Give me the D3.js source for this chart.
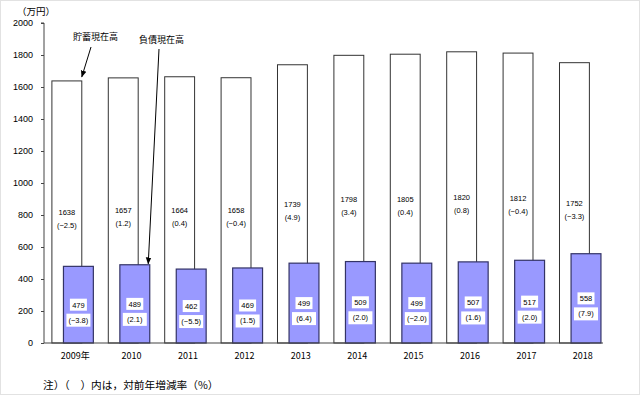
<!DOCTYPE html>
<html>
<head>
<meta charset="utf-8">
<script src="https://cdn.jsdelivr.net/npm/d3@7"></script>
<style>
  body { margin: 0; background: #fff; }
  svg { display: block; }
  text { font-family: "Liberation Sans", Arial, sans-serif; fill: #000; }
  .jp { font-family: "Noto Sans CJK JP", sans-serif; }
</style>
</head>
<body>
<svg></svg>
<script>
const years = ["2009年", "2010", "2011", "2012", "2013", "2014", "2015", "2016", "2017", "2018"];
const savings = [1638, 1657, 1664, 1658, 1739, 1798, 1805, 1820, 1812, 1752];
const savingsPct = ["(−2.5)", "(1.2)", "(0.4)", "(−0.4)", "(4.9)", "(3.4)", "(0.4)", "(0.8)", "(−0.4)", "(−3.3)"];
const debt = [479, 489, 462, 469, 499, 509, 499, 507, 517, 558];
const debtPct = ["(−3.8)", "(2.1)", "(−5.5)", "(1.5)", "(6.4)", "(2.0)", "(−2.0)", "(1.6)", "(2.0)", "(7.9)"];
const yTicks = [0, 200, 400, 600, 800, 1000, 1200, 1400, 1600, 1800, 2000];

let width = 640, height = 396;
let svg = d3.select("svg").attr("width", width).attr("height", height);

// light frame
svg.append("rect")
  .attr("x", 0.5).attr("y", 0.5)
  .attr("width", width - 1).attr("height", height - 2)
  .attr("fill", "none").attr("stroke", "#e2e2e2");

let x = d3.scaleBand().domain(years).range([44, 608]);
let y = d3.scaleLinear().domain([0, 2000]).range([343, 23]);
let bw = x.bandwidth();

let defs = svg.append("defs");
defs.append("marker")
  .attr("id", "arrow")
  .attr("viewBox", "0 0 10 10")
  .attr("refX", 9).attr("refY", 5)
  .attr("markerWidth", 7).attr("markerHeight", 7)
  .attr("orient", "auto")
  .append("path").attr("d", "M0,1 L10,5 L0,9 Z").attr("fill", "#000");

// y axis
let yAxis = svg.append("g")
  .attr("transform", "translate(44,0)")
  .call(d3.axisLeft(y).tickValues(yTicks).tickFormat(d3.format("d")).tickSize(3).tickPadding(8));
yAxis.select(".domain").attr("stroke", "#444").attr("d", `M-3,${y(2000)}H0V${y(0)}`);
yAxis.selectAll(".tick line").attr("stroke", "#444");
yAxis.selectAll("text").style("font-size", "9px").attr("fill", "#000");

svg.append("text").attr("class", "jp")
  .attr("x", 17).attr("y", 15)
  .style("font-size", "9.5px")
  .text("（万円）");

let g = svg.append("g");

// savings bars (white)
g.selectAll(".sav")
  .data(years)
  .join("rect")
  .attr("class", "sav")
  .attr("x", (d) => x(d) + bw * 0.14)
  .attr("y", (d, i) => y(savings[i]))
  .attr("width", bw * 0.53)
  .attr("height", (d, i) => y(0) - y(savings[i]))
  .attr("fill", "#fff")
  .attr("stroke", "#333")
  .attr("stroke-width", 1);

// debt bars
g.selectAll(".debt")
  .data(years)
  .join("rect")
  .attr("class", "debt")
  .attr("x", (d) => x(d) + bw * 0.345)
  .attr("y", (d, i) => y(debt[i]))
  .attr("width", bw * 0.53)
  .attr("height", (d, i) => y(0) - y(debt[i]))
  .attr("fill", "#9999ff")
  .attr("stroke", "#333366")
  .attr("stroke-width", 1.2);

// value labels
years.forEach((d, i) => {
  let cx = x(d) + bw * 0.14 + bw * 0.265;
  let my = y(savings[i] / 2);
  g.append("text").attr("x", cx).attr("y", my + 3)
    .attr("text-anchor", "middle").style("font-size", "7.5px").text(savings[i]);
  g.append("text").attr("x", cx).attr("y", my + 16)
    .attr("text-anchor", "middle").style("font-size", "7.5px").text(savingsPct[i]);

  let dx = x(d) + bw * 0.345 + bw * 0.265;
  let dy = y(debt[i] / 2);
  g.append("rect").attr("x", dx - 8.5).attr("y", dy - 6)
    .attr("width", 17).attr("height", 12).attr("fill", "#fff");
  g.append("text").attr("x", dx).attr("y", dy + 3)
    .attr("text-anchor", "middle").style("font-size", "7.5px").text(debt[i]);
  g.append("rect").attr("x", dx - 12).attr("y", dy + 9)
    .attr("width", 24).attr("height", 13).attr("fill", "#fff");
  g.append("text").attr("x", dx).attr("y", dy + 18)
    .attr("text-anchor", "middle").style("font-size", "7.5px").text(debtPct[i]);
});

// x axis baseline
svg.append("line")
  .attr("x1", 44).attr("x2", 603)
  .attr("y1", y(0)).attr("y2", y(0))
  .attr("stroke", "#444").attr("stroke-width", 1.2);

svg.selectAll(".xl")
  .data(years)
  .join("text")
  .attr("class", "xl jp")
  .attr("x", (d) => x(d) + bw / 2 + 3)
  .attr("y", 359)
  .attr("text-anchor", "middle")
  .style("font-size", "9px")
  .text((d) => d);

// annotations
svg.append("text").attr("class", "jp")
  .attr("x", 73).attr("y", 40)
  .style("font-size", "9px")
  .text("貯蓄現在高");
svg.append("line")
  .attr("x1", 91).attr("y1", 47)
  .attr("x2", x(years[0]) + bw * 0.67).attr("y2", y(savings[0]) - 4)
  .attr("stroke", "#000").attr("marker-end", "url(#arrow)");

svg.append("text").attr("class", "jp")
  .attr("x", 139).attr("y", 43)
  .style("font-size", "9px")
  .text("負債現在高");
svg.append("line")
  .attr("x1", 159).attr("y1", 49)
  .attr("x2", x(years[1]) + bw * 0.875 - 1.5).attr("y2", y(debt[1]) - 1)
  .attr("stroke", "#000").attr("marker-end", "url(#arrow)");

svg.append("text").attr("class", "jp")
  .attr("x", 43).attr("y", 389)
  .style("font-size", "10.7px")
  .attr("fill", "#333")
  .text("注）（　）内は，対前年増減率（%）");
</script>
</body>
</html>
